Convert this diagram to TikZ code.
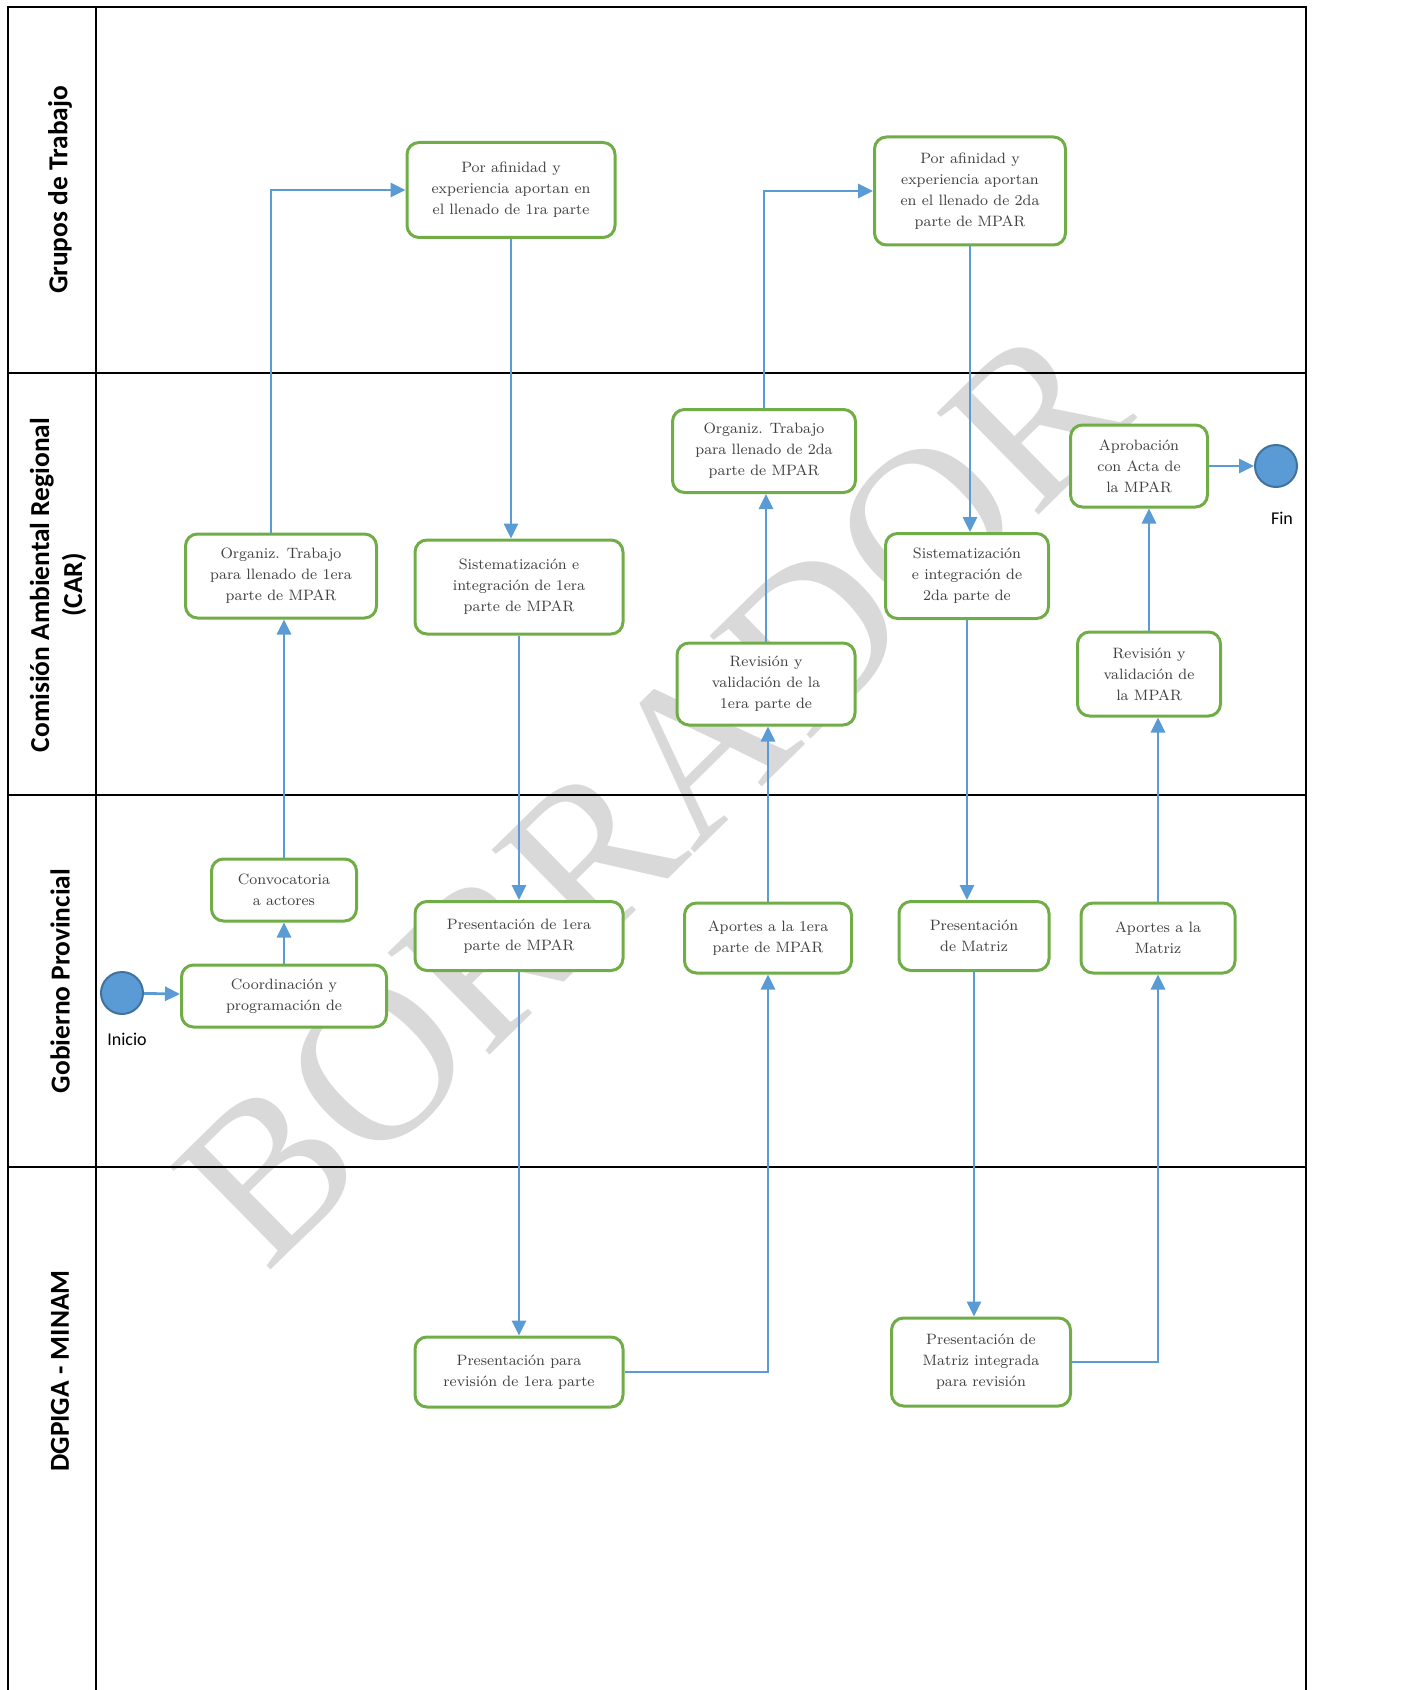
\documentclass[tikz,border=0pt]{standalone}
\usepackage{fontspec}
\newfontfamily\lanefont{Carlito}
\newfontfamily\wmfont{Liberation Serif}
\usetikzlibrary{arrows.meta}

\definecolor{boxgreen}{HTML}{70AD47}
\definecolor{flowblue}{HTML}{5B9BD5}
\definecolor{eventedge}{HTML}{41719C}

\tikzset{
  act/.style={draw=boxgreen, line width=1.5pt, rounded corners=6pt, fill=white,
    align=center, inner sep=0pt, text=black!75,
    font=\fontsize{7.5}{10.5}\selectfont},
  flow/.style={draw=flowblue, line width=1.4pt, -{Triangle[length=7.5pt,width=7pt]}},
  lane/.style={rotate=90, align=center, font=\lanefont\bfseries\fontsize{13.7}{16.5}\selectfont},
  event/.style={circle, draw=eventedge, line width=1pt, fill=flowblue,
    minimum size=21pt, inner sep=0pt},
  evlabel/.style={font=\lanefont\fontsize{9}{11}\selectfont},
}

\begin{document}
\begin{tikzpicture}[x=0.5pt,y=-0.5pt]
  \useasboundingbox (0,0) rectangle (1415,1690);

  % watermark
  \node[rotate=44.5, text=black!15, font=\wmfont\fontsize{110}{110}\selectfont]
    (borrador) at (652,795) {BORRADOR};

  % lanes
  \draw[line width=1pt] (8,1690) -- (8,7) -- (1306,7) -- (1306,1690);
  \draw[line width=1pt] (96,7) -- (96,1690);
  \foreach \y in {373,795,1167}
    \draw[line width=1pt] (8,\y) -- (1306,\y);

  \node[lane] (lane gt) at (60,190) {Grupos de Trabajo};
  \node[lane] (lane car) at (58,585) {Comisión Ambiental Regional\\(CAR)};
  \node[lane] (lane gp) at (60,981) {Gobierno Provincial};
  \node[lane] (lane mn) at (60,1371) {DGPIGA - MINAM};

  % Grupos de Trabajo
  \node[act, minimum width=104pt, minimum height=47.5pt] (gt1) at (511,190)
    {Por afinidad y\\experiencia aportan en\\el llenado de 1ra parte};
  \node[act, minimum width=95.5pt, minimum height=54pt] (gt2) at (970,191)
    {Por afinidad y\\experiencia aportan\\en el llenado de 2da\\parte de MPAR};

  % CAR
  \node[act, minimum width=95.5pt, minimum height=42pt] (car1) at (281,576)
    {Organiz. Trabajo\\para llenado de 1era\\parte de MPAR};
  \node[act, minimum width=104pt, minimum height=47pt] (car2) at (519,587)
    {Sistematización e\\integración de 1era\\parte de MPAR};
  \node[act, minimum width=91.5pt, minimum height=41.5pt] (car3) at (764,451)
    {Organiz. Trabajo\\para llenado de 2da\\parte de MPAR};
  \node[act, minimum width=89pt, minimum height=41pt] (car4) at (766,684)
    {Revisión y\\validación de la\\1era parte de};
  \node[act, minimum width=81.5pt, minimum height=42.5pt] (car5) at (967,576)
    {Sistematización\\e integración de\\2da parte de};
  \node[act, minimum width=68.5pt, minimum height=41pt] (car6) at (1139,466)
    {Aprobación\\con Acta de\\la MPAR};
  \node[act, minimum width=71.5pt, minimum height=42pt] (car7) at (1149,674)
    {Revisión y\\validación de\\la MPAR};

  % Gobierno Provincial
  \node[act, minimum width=72.5pt, minimum height=31pt] (gp1) at (284,890)
    {Convocatoria\\a actores};
  \node[act, minimum width=102.5pt, minimum height=31pt] (gp2) at (284,996)
    {Coordinación y\\programación de};
  \node[act, minimum width=104pt, minimum height=34.5pt] (gp3) at (519,936)
    {Presentación de 1era\\parte de MPAR};
  \node[act, minimum width=83.5pt, minimum height=35pt] (gp4) at (768,938)
    {Aportes a la 1era\\parte de MPAR};
  \node[act, minimum width=75pt, minimum height=34.5pt] (gp5) at (974,936)
    {Presentación\\de Matriz};
  \node[act, minimum width=77pt, minimum height=35pt] (gp6) at (1158,938)
    {Aportes a la\\Matriz};

  % DGPIGA - MINAM
  \node[act, minimum width=104pt, minimum height=35pt] (mn1) at (519,1372)
    {Presentación para\\revisión de 1era parte};
  \node[act, minimum width=89.5pt, minimum height=44pt] (mn2) at (981,1362)
    {Presentación de\\Matriz integrada\\para revisión};

  % start / end
  \node[event] (inicio) at (122,993) {};
  \node[evlabel] (inicio lbl) at (127,1039) {Inicio};
  \node[event] (fin) at (1276,466) {};
  \node[evlabel] (fin lbl) at (1282,518) {Fin};

  % flow
  \draw[flow] (inicio) -- (gp2);
  \draw[flow] (gp2.north) -- (gp1.south);
  \draw[flow] (gp1.north) -- (gp1.north |- car1.south);
  \draw[flow] ([xshift=-5pt]car1.north) |- (gt1.west);
  \draw[flow] (gt1.south) -- (gt1.south |- car2.north);
  \draw[flow] (car2.south) -- (gp3.north);
  \draw[flow] (gp3.south) -- (mn1.north);
  \draw[flow] (mn1.east) -| (gp4.south);
  \draw[flow] (gp4.north) -- (gp4.north |- car4.south);
  \draw[flow] (car4.north) -- (car4.north |- car3.south);
  \draw[flow] (car3.north) |- (gt2.west);
  \draw[flow] (gt2.south) -- (gt2.south |- car5.north);
  \draw[flow] (car5.south) -- (car5.south |- gp5.north);
  \draw[flow] (gp5.south) -- (gp5.south |- mn2.north);
  \draw[flow] (mn2.east) -| (gp6.south);
  \draw[flow] (gp6.north) -- (gp6.north |- car7.south);
  \draw[flow] (car7.north) -- (car7.north |- car6.south);
  \draw[flow] (car6) -- (fin);
\end{tikzpicture}
\end{document}
